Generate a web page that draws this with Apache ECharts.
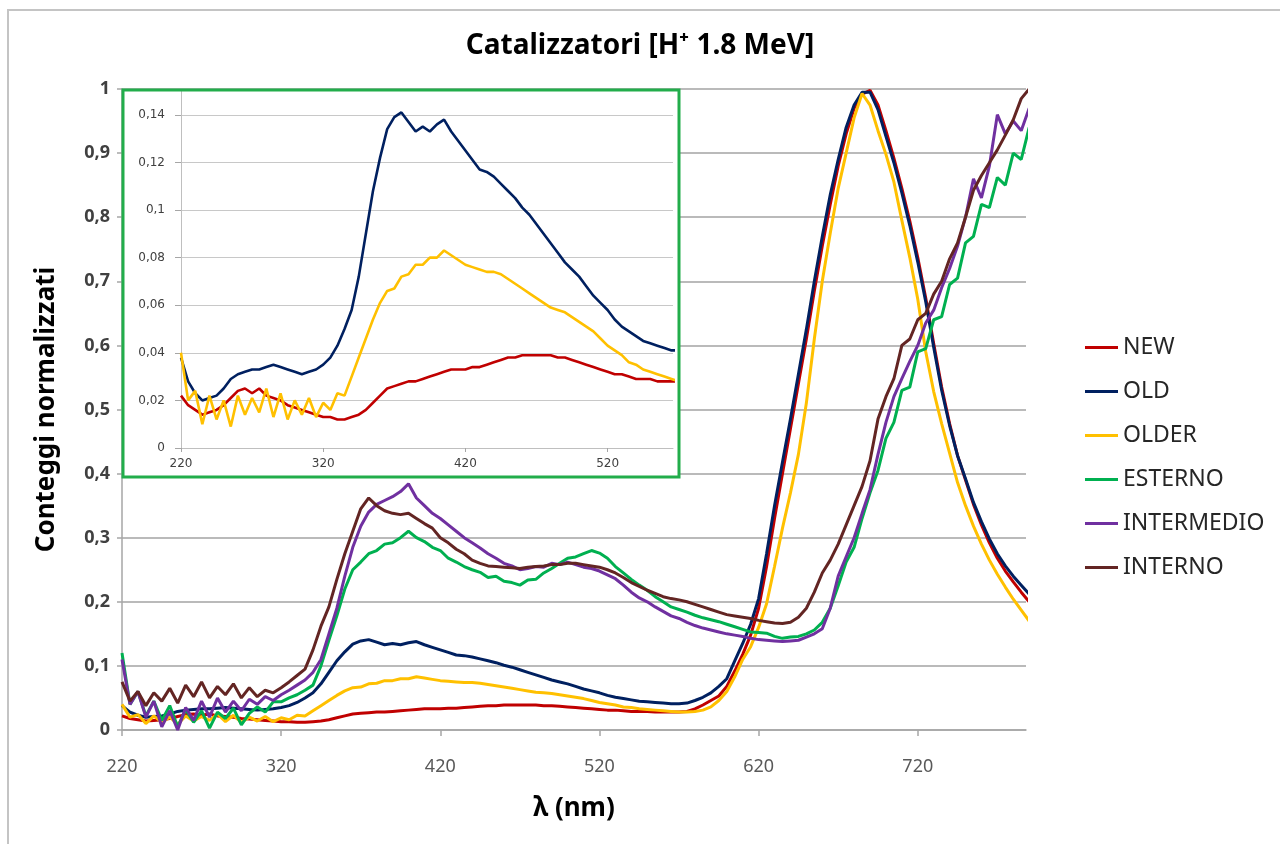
<!DOCTYPE html>
<html>
<head>
<meta charset="utf-8">
<script src="https://cdn.jsdelivr.net/npm/echarts@6/dist/echarts.min.js"></script>
<style>
  html, body { margin: 0; padding: 0; background: #ffffff; }
  #chart { width: 1280px; height: 844px; }
</style>
</head>
<body>
<div id="chart"></div>
<script>
// Wavelength grid (nm)
const wavelengths = [
  220,225,230,235,240,245,250,255,260,265,270,275,280,285,290,295,300,305,310,315,
  320,325,330,335,340,345,350,355,360,365,370,375,380,385,390,395,400,405,410,415,
  420,425,430,435,440,445,450,455,460,465,470,475,480,485,490,495,500,505,510,515,
  520,525,530,535,540,545,550,555,560,565,570,575,580,585,590,595,600,605,610,615,
  620,625,630,635,640,645,650,655,660,665,670,675,680,685,690,695,700,705,710,715,
  720,725,730,735,740,745,750,755,760,765,770,775,780,785,790
];

// Normalised counts per sample
const NEW = [
  .022,.018,.016,.014,.015,.016,.018,.021,.024,.025,
  .023,.025,.022,.021,.020,.018,.017,.016,.015,.014,
  .013,.013,.012,.012,.013,.014,.016,.019,.022,.025,
  .026,.027,.028,.028,.029,.030,.031,.032,.033,.033,
  .033,.034,.034,.035,.036,.037,.038,.038,.039,.039,
  .039,.039,.039,.038,.038,.037,.036,.035,.034,.033,
  .032,.031,.031,.030,.029,.029,.029,.028,.028,.028,
  .028,.029,.033,.039,.046,.053,.068,.092,.118,.148,
  .190,.255,.330,.400,.470,.540,.610,.685,.755,.820,
  .880,.930,.970,.992,.998,.975,.935,.892,.845,.794,
  .737,.674,.603,.535,.478,.428,.390,.352,.320,.292,
  .268,.248,.231,.215,.200
];
const OLD = [
  .038,.028,.023,.020,.021,.022,.025,.029,.031,.032,
  .033,.033,.034,.035,.034,.033,.032,.031,.032,.033,
  .035,.038,.043,.050,.058,.072,.090,.108,.122,.134,
  .139,.141,.137,.133,.135,.133,.136,.138,.133,.129,
  .125,.121,.117,.116,.114,.111,.108,.105,.101,.098,
  .094,.090,.086,.082,.078,.075,.072,.068,.064,.061,
  .058,.054,.051,.049,.047,.045,.044,.043,.042,.041,
  .041,.042,.046,.051,.058,.068,.080,.108,.135,.165,
  .205,.275,.350,.418,.485,.555,.625,.700,.770,.835,
  .890,.940,.975,.995,.995,.968,.926,.885,.838,.787,
  .730,.668,.597,.530,.475,.428,.392,.355,.325,.298,
  .275,.256,.240,.226,.212
];
const OLDER = [
  .040,.020,.024,.010,.022,.012,.020,.009,.022,.014,
  .021,.015,.025,.013,.023,.012,.020,.014,.021,.013,
  .019,.016,.023,.022,.030,.038,.046,.054,.061,.066,
  .067,.072,.073,.077,.077,.080,.080,.083,.081,.079,
  .077,.076,.075,.074,.074,.073,.071,.069,.067,.065,
  .063,.061,.059,.058,.057,.055,.053,.051,.049,.046,
  .043,.041,.039,.036,.035,.033,.032,.031,.030,.029,
  .028,.028,.029,.031,.036,.046,.060,.083,.110,.130,
  .160,.197,.255,.315,.370,.430,.510,.610,.700,.775,
  .845,.900,.955,.993,.975,.935,.898,.855,.795,.737,
  .672,.590,.528,.478,.432,.386,.350,.318,.290,.265,
  .243,.223,.204,.187,.170
];
const ESTERNO = [
  .120,.040,.060,.022,.045,.015,.038,.005,.032,.012,
  .030,.003,.028,.018,.034,.008,.026,.036,.028,.044,
  .044,.050,.055,.062,.070,.100,.140,.178,.220,.250,
  .262,.275,.280,.290,.292,.300,.310,.300,.294,.285,
  .280,.268,.262,.255,.250,.246,.238,.240,.232,.230,
  .226,.234,.235,.245,.252,.260,.268,.270,.275,.280,
  .276,.268,.255,.245,.235,.226,.218,.208,.200,.192,
  .188,.184,.179,.175,.172,.169,.165,.161,.157,.153,
  .152,.151,.146,.143,.145,.146,.150,.156,.168,.190,
  .225,.262,.285,.330,.370,.405,.455,.480,.530,.535,
  .590,.595,.640,.645,.695,.705,.760,.770,.820,.815,
  .862,.850,.900,.890,.940
];
const INTERMEDIO = [
  .110,.040,.060,.020,.045,.005,.030,.000,.035,.015,
  .045,.020,.050,.028,.045,.030,.048,.040,.052,.046,
  .055,.062,.070,.078,.090,.110,.150,.190,.240,.285,
  .318,.340,.352,.358,.364,.372,.384,.362,.350,.338,
  .330,.320,.310,.300,.292,.284,.275,.268,.260,.256,
  .250,.252,.255,.254,.260,.258,.262,.258,.254,.252,
  .248,.242,.236,.226,.215,.206,.200,.192,.185,.178,
  .174,.168,.163,.159,.156,.153,.150,.148,.146,.143,
  .141,.140,.139,.138,.139,.140,.145,.150,.158,.190,
  .240,.270,.300,.338,.375,.430,.480,.520,.548,.575,
  .600,.635,.655,.690,.720,.755,.800,.860,.830,.880,
  .960,.930,.950,.935,.970
];
const INTERNO = [
  .075,.045,.060,.038,.058,.045,.065,.042,.070,.052,
  .075,.050,.068,.055,.072,.050,.066,.052,.062,.058,
  .066,.075,.085,.095,.125,.162,.192,.235,.275,.310,
  .345,.362,.350,.342,.338,.336,.338,.330,.322,.315,
  .300,.292,.282,.275,.265,.260,.256,.255,.254,.253,
  .252,.254,.255,.256,.258,.258,.260,.260,.258,.256,
  .254,.250,.245,.238,.230,.224,.218,.213,.208,.205,
  .203,.200,.196,.192,.188,.184,.180,.178,.176,.174,
  .171,.169,.167,.166,.168,.176,.190,.215,.245,.265,
  .290,.320,.350,.380,.420,.485,.520,.548,.600,.610,
  .640,.650,.680,.700,.735,.760,.800,.842,.865,.885,
  .905,.928,.952,.985,1.000
];

const seriesNames  = ['NEW', 'OLD', 'OLDER', 'ESTERNO', 'INTERMEDIO', 'INTERNO'];
const seriesValues = [NEW, OLD, OLDER, ESTERNO, INTERMEDIO, INTERNO];
const seriesColors = ['#c00000', '#002060', '#ffc000', '#00b050', '#7030a0', '#632523'];
const insetNames   = ['NEW', 'OLD', 'OLDER'];

// Tick labels
const xTickLabels      = [220, 320, 420, 520, 620, 720];
const insetXTickLabels = [220, 320, 420, 520];
const yTickLabels      = [0, 0.1, 0.2, 0.3, 0.4, 0.5, 0.6, 0.7, 0.8, 0.9, 1];
const insetYTickLabels = [0, 0.02, 0.04, 0.06, 0.08, 0.1, 0.12, 0.14];

// Both x axes start at 220 nm; values are plotted as an offset from it so
// that the 100 nm tick interval lines up with the axis origin.
const X0 = 220;
const X_MAX = 788;
const INSET_X_MAX = 566;
const toPairs = arr => arr.map((v, i) => [wavelengths[i] - X0, v]);
const comma = v => String(+v.toFixed(2)).replace('.', ',');

const FONT = 'Noto Sans';

const mainSeries = seriesNames.map((name, i) => ({
  name,
  type: 'line',
  xAxisIndex: 0,
  yAxisIndex: 0,
  data: toPairs(seriesValues[i]),
  showSymbol: false,
  symbol: 'none',
  clip: true,
  z: 2,
  lineStyle: { color: seriesColors[i], width: 3 },
  itemStyle: { color: seriesColors[i] },
  emphasis: { disabled: true }
}));

const insetSeries = insetNames.map(name => {
  const i = seriesNames.indexOf(name);
  return {
    name,
    type: 'line',
    xAxisIndex: 1,
    yAxisIndex: 1,
    data: toPairs(seriesValues[i]),
    showSymbol: false,
    symbol: 'none',
    clip: true,
    z: 12,
    lineStyle: { color: seriesColors[i], width: 2.6 },
    itemStyle: { color: seriesColors[i] },
    emphasis: { disabled: true }
  };
});

const chart = echarts.init(document.getElementById('chart'), null, { renderer: 'canvas' });

chart.setOption({
  animation: false,
  backgroundColor: '#ffffff',
  title: {
    text: 'Catalizzatori [H⁺ 1.8 MeV]',
    left: 'center',
    top: 27,
    textStyle: { fontFamily: FONT, fontSize: 28, fontWeight: 'bold', color: '#000000' }
  },
  legend: {
    data: seriesNames,
    orient: 'vertical',
    left: 1085,
    top: 336,
    padding: 0,
    icon: 'rect',
    itemWidth: 33,
    itemHeight: 3,
    itemGap: 21,
    selectedMode: false,
    textStyle: { fontFamily: FONT, fontSize: 23, color: '#262626' }
  },
  grid: [
    { left: 122, right: 254, top: 89, bottom: 114, containLabel: false },
    { left: 181, right: 607, top: 91, bottom: 396, containLabel: false, z: 11 }
  ],
  xAxis: [
    {
      type: 'value', gridIndex: 0, min: 0, max: X_MAX - X0, interval: 100,
      name: 'λ (nm)', nameLocation: 'middle', nameGap: 66,
      nameTextStyle: { fontFamily: FONT, fontSize: 26, fontWeight: 'bold', color: '#000000' },
      axisLine: { show: true, lineStyle: { color: '#a6a6a6', width: 1.5 } },
      axisTick: { show: true, length: 6, lineStyle: { color: '#a6a6a6', width: 1.5 },
                  customValues: xTickLabels.map(v => v - X0) },
      axisLabel: { margin: 28, fontFamily: FONT, fontSize: 18, color: '#595959',
                   customValues: xTickLabels.map(v => v - X0),
                   formatter: v => String(Math.round(v + X0)) },
      splitLine: { show: false }
    },
    {
      type: 'value', gridIndex: 1, min: 0, max: INSET_X_MAX - X0, interval: 100, z: 11,
      axisLine: { show: true, lineStyle: { color: '#bfbfbf', width: 1 } },
      axisTick: { show: true, length: 4, lineStyle: { color: '#a6a6a6' },
                  customValues: insetXTickLabels.map(v => v - X0) },
      axisLabel: { margin: 10, fontFamily: 'DejaVu Sans', fontSize: 12, color: '#404040',
                   customValues: insetXTickLabels.map(v => v - X0),
                   formatter: v => String(Math.round(v + X0)) },
      splitLine: { show: false }
    }
  ],
  yAxis: [
    {
      type: 'value', gridIndex: 0, min: 0, max: 1, interval: 0.1,
      name: 'Conteggi normalizzati', nameLocation: 'middle', nameGap: 62, nameRotate: 90,
      nameTextStyle: { fontFamily: FONT, fontSize: 26, fontWeight: 'bold', color: '#000000' },
      axisLine: { show: true, lineStyle: { color: '#a6a6a6', width: 1.5 } },
      axisTick: { show: true, length: 5, lineStyle: { color: '#a6a6a6', width: 1.5 },
                  customValues: yTickLabels },
      axisLabel: { margin: 12, fontFamily: FONT, fontSize: 18, fontWeight: 'bold', color: '#404040',
                   customValues: yTickLabels, formatter: v => comma(v) },
      splitLine: { show: true, lineStyle: { color: '#a3a3a3', width: 1.6 } }
    },
    {
      type: 'value', gridIndex: 1, min: 0, max: 0.15, interval: 0.02, z: 11,
      axisLine: { show: true, lineStyle: { color: '#bfbfbf', width: 1 } },
      axisTick: { show: true, length: 6, lineStyle: { color: '#a6a6a6' },
                  customValues: insetYTickLabels },
      axisLabel: { margin: 16, fontFamily: 'DejaVu Sans', fontSize: 12, color: '#404040',
                   customValues: insetYTickLabels, formatter: v => comma(v) },
      splitLine: { show: true, lineStyle: { color: '#c8c8c8', width: 1 } }
    }
  ],
  graphic: [
    // outer chart frame
    { type: 'rect', z: 1, silent: true,
      shape: { x: 8, y: 10, width: 1300, height: 900 },
      style: { fill: 'none', stroke: '#c4c4c4', lineWidth: 2 } },
    // inset panel background
    { type: 'rect', z: 10, silent: true,
      shape: { x: 123, y: 90, width: 556, height: 387 },
      style: { fill: '#ffffff', stroke: 'none' } },
    // inset panel border
    { type: 'rect', z: 20, silent: true,
      shape: { x: 123, y: 90, width: 556, height: 387 },
      style: { fill: 'none', stroke: '#22ad4b', lineWidth: 3 } }
  ],
  series: mainSeries.concat(insetSeries)
});
</script>
</body>
</html>
